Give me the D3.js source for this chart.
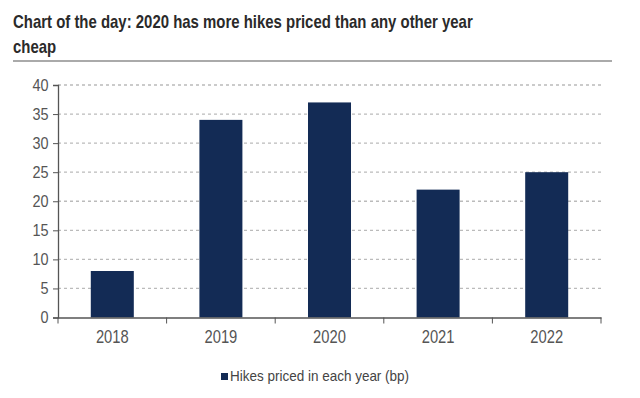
<!DOCTYPE html>
<html>
<head>
<meta charset="utf-8">
<script src="https://cdn.jsdelivr.net/npm/d3@7"></script>
<style>
  body { margin: 0; background: #fff; }
  svg text { font-family: "Liberation Sans", Arial, sans-serif; }
</style>
</head>
<body>
<svg id="chart" width="640" height="398"></svg>
<script>
// datos del grafico
const years = ["2018", "2019", "2020", "2021", "2022"]
const hikes = [8, 34, 37, 22, 25]
const yTicks = [0, 5, 10, 15, 20, 25, 30, 35, 40]
const titleLines = ["Chart of the day: 2020 has more hikes priced than any other year", "cheap"]
const legendLabel = "Hikes priced in each year (bp)"

const margin = { top: 85, left: 58, right: 39 }
const width = 640 - margin.left - margin.right
const height = 317.5 - margin.top
const navy = "#132b55"

const svg = d3.select("#chart")

// titulo (letra angosta, se comprime a lo ancho)
svg.selectAll(".title")
  .data(titleLines)
  .join("text")
  .attr("class", "title")
  .attr("transform", (d, i) => `translate(13,${28 + i * 25}) scale(0.83,1)`)
  .attr("font-size", 18)
  .attr("font-weight", "bold")
  .attr("fill", "#2a2a2a")
  .text(d => d)

svg.append("line")
  .attr("x1", 13).attr("x2", 612)
  .attr("y1", 61).attr("y2", 61)
  .attr("stroke", "#aaa").attr("stroke-width", 2)

const g = svg.append("g")
  .attr("transform", `translate(${margin.left},${margin.top})`)

const x = d3.scaleBand()
  .domain(years)
  .range([0, width])
  .paddingInner(0.604)
  .paddingOuter(0.302)

const y = d3.scaleLinear()
  .domain([0, 40])
  .range([height, 0])

// lineas punteadas
g.selectAll(".grid")
  .data(yTicks.filter(d => d > 0))
  .join("line")
  .attr("x1", 0).attr("x2", width + 1)
  .attr("y1", d => y(d)).attr("y2", d => y(d))
  .attr("stroke", "#bbb")
  .attr("stroke-width", 1.3)
  .attr("stroke-dasharray", "3,3")

g.selectAll("rect")
  .data(years)
  .join("rect")
  .attr("x", d => x(d))
  .attr("y", (d, i) => y(hikes[i]))
  .attr("width", x.bandwidth())
  .attr("height", (d, i) => height - y(hikes[i]))
  .attr("fill", navy)

// eje y
const yAxis = g.append("g")
  .call(d3.axisLeft(y).tickValues(yTicks).tickSize(5).tickPadding(6))
yAxis.select(".domain").attr("stroke", "#555").attr("stroke-width", 1.3)
yAxis.selectAll(".tick line").attr("stroke", "#555")
yAxis.selectAll("text")
  .attr("font-size", 17).attr("fill", "#555")
  .attr("transform", "scale(0.85,1)")

// eje x
const xAxis = g.append("g")
  .attr("transform", `translate(0,${height})`)
  .call(d3.axisBottom(x).tickSize(0).tickPadding(13))
xAxis.select(".domain").attr("stroke", "#555").attr("stroke-width", 1.3)
xAxis.selectAll("text")
  .attr("font-size", 18).attr("fill", "#555")
  .attr("transform", "scale(0.82,1)")

const step = x.step()
g.selectAll(".xtick")
  .data(d3.range(years.length + 1))
  .join("line")
  .attr("x1", d => d * step).attr("x2", d => d * step)
  .attr("y1", height).attr("y2", height + 6)
  .attr("stroke", "#555")

// leyenda
svg.append("rect")
  .attr("x", 221).attr("y", 373)
  .attr("width", 7).attr("height", 7)
  .attr("fill", navy)
svg.append("text")
  .attr("transform", "translate(230,381) scale(0.9,1)")
  .attr("font-size", 15)
  .attr("fill", "#444")
  .text(legendLabel)
</script>
</body>
</html>
